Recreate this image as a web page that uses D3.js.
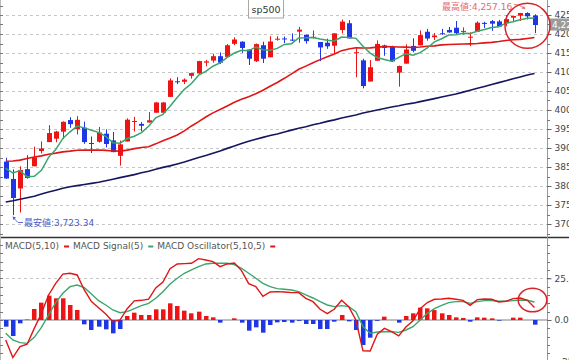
<!DOCTYPE html>
<html><head><meta charset="utf-8">
<script src="https://cdn.jsdelivr.net/npm/d3@7"></script>
<style>
body{margin:0;background:#fff}
svg{display:block}
text{font-family:"DejaVu Sans",Verdana,"Noto Sans CJK JP",sans-serif}
</style>
</head><body>
<svg id="c" width="569" height="360"></svg>
<script>
const dates = ["03/03","03/04","03/05","03/08","03/09","03/10","03/11","03/12","03/15","03/16","03/17","03/18","03/19","03/22","03/23","03/24","03/25","03/26","03/29","03/30","03/31","04/01","04/02","04/05","04/06","04/07","04/08","04/09","04/12","04/13","04/14","04/15","04/16","04/19","04/20","04/21","04/22","04/23","04/26","04/27","04/28","04/29","04/30","05/03","05/04","05/05","05/06","05/07","05/10","05/11","05/12","05/13","05/14","05/17","05/18","05/19","05/20","05/21","05/24","05/25","05/26","05/27","05/28","06/01","06/02","06/03","06/04","06/07","06/08","06/09","06/10","06/11","06/14","06/15","06/16"];
const openP = [3863.99,3818.53,3793.58,3844.39,3851.93,3891.99,3915.54,3924.52,3942.96,3973.59,3949.57,3953.50,3913.14,3916.48,3937.60,3919.93,3879.34,3917.12,3969.31,3963.34,3967.25,3992.78,3992.78,4034.44,4075.57,4074.29,4089.95,4096.11,4124.71,4130.10,4141.58,4139.76,4174.14,4179.80,4159.18,4128.42,4170.46,4138.78,4185.03,4188.25,4185.14,4206.14,4198.10,4191.98,4179.04,4177.06,4169.14,4210.34,4228.29,4150.34,4130.55,4074.99,4129.58,4169.92,4165.94,4098.45,4121.97,4168.61,4170.16,4205.94,4191.59,4201.94,4210.77,4216.52,4206.82,4191.43,4206.05,4229.34,4233.81,4232.99,4228.56,4242.90,4248.31,4255.28,4248.87];
const highP = [3874.47,3843.67,3851.69,3881.06,3903.76,3917.35,3960.27,3944.99,3970.08,3981.04,3983.87,3969.62,3930.12,3955.31,3949.13,3942.08,3919.54,3978.19,3981.83,3968.01,3994.41,4020.63,4020.63,4083.42,4086.23,4083.13,4098.19,4129.48,4131.76,4148.00,4151.69,4173.49,4191.31,4180.81,4159.18,4175.02,4179.57,4194.17,4194.19,4193.35,4201.53,4218.78,4198.10,4209.39,4179.04,4187.72,4202.70,4238.04,4236.39,4162.04,4134.73,4131.58,4183.13,4171.92,4169.15,4116.93,4172.80,4188.72,4209.52,4213.42,4202.61,4213.38,4218.36,4234.12,4217.37,4204.39,4233.45,4232.34,4236.74,4237.09,4249.74,4248.38,4255.59,4257.16,4251.89];
const lowP = [3818.86,3723.34,3730.19,3819.25,3851.93,3885.73,3915.54,3915.21,3923.54,3953.44,3935.74,3910.86,3886.75,3914.16,3901.57,3888.75,3853.50,3917.12,3943.25,3944.35,3966.98,3992.78,3992.78,4034.44,4068.14,4068.31,4082.54,4095.51,4114.82,4124.43,4120.87,4139.76,4170.75,4150.47,4118.38,4126.35,4123.69,4138.78,4182.36,4176.22,4181.78,4176.81,4174.85,4188.03,4128.59,4160.94,4147.33,4201.64,4188.13,4086.00,4056.88,4074.99,4129.58,4142.69,4125.99,4061.41,4121.97,4151.72,4170.16,4182.52,4184.11,4197.78,4203.57,4197.59,4198.27,4167.93,4206.05,4215.66,4208.41,4218.74,4220.34,4232.25,4234.07,4238.35,4202.45];
const closeP = [3819.72,3768.47,3841.94,3821.35,3875.44,3898.81,3939.34,3943.34,3968.94,3962.71,3974.12,3915.46,3913.10,3940.59,3910.52,3889.14,3909.52,3974.54,3971.09,3958.55,3972.89,4019.87,4019.87,4077.91,4073.94,4079.95,4097.17,4128.80,4127.99,4141.59,4124.66,4170.42,4185.47,4163.26,4134.94,4173.42,4134.98,4180.17,4187.62,4186.72,4183.18,4211.47,4181.17,4192.66,4164.66,4167.59,4201.62,4232.60,4188.43,4152.10,4063.04,4112.50,4173.85,4163.29,4127.83,4115.68,4159.12,4155.86,4197.05,4188.13,4195.99,4200.88,4204.11,4202.04,4208.12,4192.85,4229.89,4226.52,4227.26,4219.55,4239.18,4247.44,4255.15,4246.59,4223.70];
const ma5 = [3846.5,3834.3,3840.4,3824.4,3825.4,3841.2,3875.4,3895.7,3925.2,3942.6,3957.7,3952.9,3946.9,3941.2,3930.8,3913.8,3912.6,3924.9,3931.0,3940.6,3957.3,3979.4,3988.5,4009.8,4032.9,4054.3,4069.8,4091.6,4101.6,4115.1,4124.0,4138.7,4150.0,4157.1,4155.8,4165.5,4158.4,4157.4,4162.2,4172.6,4174.5,4189.8,4190.0,4191.0,4186.6,4183.5,4181.5,4191.8,4191.0,4188.5,4167.6,4149.7,4138.0,4133.0,4128.1,4138.6,4148.0,4144.4,4151.1,4163.2,4179.2,4187.6,4197.2,4198.2,4202.2,4201.6,4207.4,4211.9,4216.9,4219.2,4228.5,4232.0,4237.7,4241.6,4242.4];
const ma25 = [3865.2,3865.9,3868.1,3872.4,3876.4,3879.3,3883.7,3886.5,3889.8,3891.7,3894.2,3894.5,3894.3,3894.6,3893.7,3892.0,3891.8,3894.5,3898.3,3901.4,3903.3,3910.9,3919.3,3926.3,3934.4,3944.9,3958.0,3969.5,3981.7,3992.4,4001.4,4010.7,4020.4,4028.1,4035.0,4043.0,4051.8,4062.5,4072.3,4083.4,4095.1,4107.2,4115.5,4124.3,4132.6,4140.4,4147.6,4156.2,4160.6,4163.7,4163.0,4163.6,4165.4,4166.9,4166.3,4165.9,4165.5,4164.3,4165.7,4167.8,4168.7,4171.3,4172.3,4172.9,4173.7,4174.1,4174.8,4176.7,4178.0,4180.2,4183.1,4184.9,4185.8,4188.2,4191.0];
const ma75 = [3758,3761,3765,3769,3773,3779,3784,3789,3794,3798,3801,3804,3807,3810,3814,3818,3822,3826,3830,3835,3839,3844,3849,3853,3858,3863,3869,3875,3880,3886,3892,3899,3905,3912,3918,3923,3928,3933,3937,3942,3947,3952,3956,3961,3965,3970,3974,3979,3983,3987,3992,3996,4000,4004,4008,4011,4015,4018,4022,4026,4030,4034,4038,4042,4047,4052,4057,4062,4067,4072,4077,4082,4087,4092,4096];
const macdLine = [-12,-22.5,-16,-14.5,-5,4,15,22,27.5,28,27,18,11,7.4,3.6,-1,0,6.8,11.5,11.8,12.5,19.2,22.8,30.8,33.6,33.8,34,36.8,36,35,32,33.6,34.2,29.6,21.8,20,14.2,16.8,17,16.8,16.4,16.4,13,11,6.4,3.8,6.6,11.8,8,0,-18.5,-18.6,-8.5,-5,-7,-9.5,-4.2,-0.5,6.8,10.5,12.4,12.6,13,12.4,11.8,8.8,12.2,12.6,12.4,10.8,11.2,12.8,13.2,11.8,7.5];
const signalLine = [-8,-12,-13.6,-14,-10.4,-4.4,3,10.4,16,20,21,19.4,15.6,11.6,9,6,4.4,5,6.8,8.6,10,13,17,21.6,25,28,30,32,33.6,34,34,34,33.2,31,28,25,22,20,18.8,18.4,18,17,15,13.2,11,9,8,8.6,8,5,-4,-8,-7.2,-7,-7,-7.4,-6,-4,0,4,6.8,8.8,10.4,11,11,10,11,11.6,11.6,11.2,11.2,11.6,12,11.8,10.8];
const oscBars = [-4,-9.6,-2,0.3,6.6,10.4,14.6,13,13,9,6,-2.6,-6,-4,-5.6,-8,-5.4,2.4,4.4,3,3,6.4,6.4,10,8.4,5.6,4,5,2.4,1.6,-1.6,0,1,-1.6,-6.4,-4.4,-7.6,-3,-1.4,-1.2,-1.6,-0.5,-2.4,-2.4,-5.4,-5.4,-1,3,-0.8,-6,-15,-10.6,-0.5,2,0,-1.6,2.4,4,7.4,7,6,4,3,1.6,1.2,-1,1.6,1.4,1,-0.4,0,1.4,1.4,0,-2.8];
const priceTicks = [3700,3750,3800,3850,3900,3950,4000,4050,4100,4150,4200,4250];
const macdTicks = [-25,0,25];
const legendItems = ["MACD(5,10)","MACD Signal(5)","MACD Oscillator(5,10,5)"];
const title = "sp500";
const maxLabel = "最高値:4,257.16";
const minLabel = "最安値:3,723.34";
const lastLabel = "4,223.70";

const RED="#ee1414", BLUE="#1f36e6", GREEN="#3aa56c", MARED="#e01515", NAVY="#16165e";
const AX=547, SPLIT=237.5;
const svg=d3.select('#c');
svg.append('rect').attr('width',569).attr('height',360).attr('fill','#fff');

const x=d3.scalePoint().domain(dates).range([5.7,534.5]);
const y=d3.scaleLinear().domain([3700,4250]).range([224,15]);
const ym=d3.scaleLinear().domain([-25,25]).range([361.7,278.3]);

svg.append('clipPath').attr('id','ct').append('rect').attr('x',0).attr('y',0).attr('width',AX).attr('height',SPLIT);
svg.append('clipPath').attr('id','cb').append('rect').attr('x',0).attr('y',SPLIT+1).attr('width',AX).attr('height',360-SPLIT);

svg.append('g').selectAll('line').data(priceTicks).join('line')
  .attr('x1',0).attr('x2',AX).attr('y1',d=>Math.round(y(d))+0.5).attr('y2',d=>Math.round(y(d))+0.5)
  .attr('stroke','#c6c6c6').attr('stroke-dasharray','3,3');
svg.append('line').attr('x1',0).attr('x2',AX).attr('y1',Math.round(ym(25))+0.5).attr('y2',Math.round(ym(25))+0.5)
  .attr('stroke','#c6c6c6').attr('stroke-dasharray','3,3');
svg.append('line').attr('x1',0).attr('x2',AX).attr('y1',ym(0)).attr('y2',ym(0))
  .attr('stroke','#aaaaaa').attr('stroke-width',1.5);

const topG=svg.append('g').attr('clip-path','url(#ct)');
const idx=d3.range(dates.length);
const col=i=>closeP[i]>=openP[i]?RED:BLUE;
topG.append('g').selectAll('line').data(idx).join('line')
  .attr('x1',i=>Math.round(x(dates[i]))+0.5).attr('x2',i=>Math.round(x(dates[i]))+0.5)
  .attr('y1',i=>y(highP[i])).attr('y2',i=>y(lowP[i]))
  .attr('stroke',col).attr('stroke-width',1);
topG.append('g').selectAll('rect').data(idx).join('rect')
  .attr('x',i=>Math.round(x(dates[i]))-2).attr('width',5)
  .attr('y',i=>Math.min(y(openP[i]),y(closeP[i])))
  .attr('height',i=>Math.max(1,Math.abs(y(openP[i])-y(closeP[i]))))
  .attr('fill',col);

const lineP=d3.line().x((d,i)=>x(dates[i])).y(d=>y(d));
topG.append('path').attr('d',lineP(ma75)).attr('fill','none').attr('stroke',NAVY).attr('stroke-width',1.6);
topG.append('path').attr('d',lineP(ma25)).attr('fill','none').attr('stroke',MARED).attr('stroke-width',1.6);
topG.append('path').attr('d',lineP(ma5)).attr('fill','none').attr('stroke',GREEN).attr('stroke-width',1.5);

const botG=svg.append('g').attr('clip-path','url(#cb)');
botG.append('g').selectAll('rect').data(idx).join('rect')
  .attr('x',i=>Math.round(x(dates[i]))-2).attr('width',4.5)
  .attr('y',i=>Math.min(ym(0),ym(oscBars[i])))
  .attr('height',i=>Math.abs(ym(0)-ym(oscBars[i])))
  .attr('fill',i=>oscBars[i]>=0?RED:BLUE);
const lineM=d3.line().x((d,i)=>x(dates[i])).y(d=>ym(d));
botG.append('path').attr('d',lineM(signalLine)).attr('fill','none').attr('stroke',GREEN).attr('stroke-width',1.4);
botG.append('path').attr('d',lineM(macdLine)).attr('fill','none').attr('stroke',MARED).attr('stroke-width',1.4);

svg.append('line').attr('x1',0).attr('x2',569).attr('y1',SPLIT).attr('y2',SPLIT).attr('stroke','#333').attr('stroke-width',1.5);

svg.append('line').attr('x1',AX+0.5).attr('x2',AX+0.5).attr('y1',0).attr('y2',360).attr('stroke','#999');
svg.append('line').attr('x1',0.5).attr('x2',0.5).attr('y1',0).attr('y2',360).attr('stroke','#bbb');

const minorTop=d3.range(3675,4276,25);
const minorBot=d3.range(-25,46,5);
svg.append('g').selectAll('line').data(minorTop).join('line')
  .attr('x1',AX).attr('x2',AX+3).attr('y1',d=>Math.round(y(d))+0.5).attr('y2',d=>Math.round(y(d))+0.5).attr('stroke','#777');
svg.append('g').selectAll('line').data(minorTop).join('line')
  .attr('x1',0).attr('x2',3).attr('y1',d=>Math.round(y(d))+0.5).attr('y2',d=>Math.round(y(d))+0.5).attr('stroke','#777');
svg.append('g').selectAll('line').data(minorBot.filter(d=>ym(d)>SPLIT+3)).join('line')
  .attr('x1',AX).attr('x2',AX+3).attr('y1',d=>Math.round(ym(d))+0.5).attr('y2',d=>Math.round(ym(d))+0.5).attr('stroke','#777');
svg.append('g').selectAll('line').data(minorBot.filter(d=>ym(d)>SPLIT+3)).join('line')
  .attr('x1',0).attr('x2',3).attr('y1',d=>Math.round(ym(d))+0.5).attr('y2',d=>Math.round(ym(d))+0.5).attr('stroke','#777');

const ayTop=svg.append('g').attr('transform',`translate(${AX+0.5},0)`)
  .call(d3.axisRight(y).tickValues(priceTicks).tickSize(4).tickPadding(3).tickFormat(d3.format('d')));
const ayBot=svg.append('g').attr('transform',`translate(${AX+0.5},0)`)
  .call(d3.axisRight(ym).tickValues(macdTicks).tickSize(4).tickPadding(3).tickFormat(d3.format('.2f')));
[ayTop,ayBot].forEach(g=>{
  g.select('.domain').remove();
  g.selectAll('line').attr('stroke','#666');
  g.selectAll('text').attr('fill','#444').style('font-size','9px').style('font-family','"DejaVu Sans",Verdana,sans-serif');
});

svg.append('rect').attr('x',549).attr('y',18.5).attr('width',22).attr('height',12).attr('fill','#9b9b9b');
svg.append('text').attr('x',552).attr('y',27.6).attr('fill','#fff').style('font-size','9px').text(lastLabel);

svg.append('rect').attr('x',248.5).attr('y',-0.5).attr('width',35).attr('height',18.5).attr('fill','#fff').attr('stroke','#a8a8a8');
svg.append('text').attr('x',266).attr('y',12.5).attr('text-anchor','middle').attr('fill','#333').style('font-size','9.5px').text(title);

svg.append('text').attr('x',442).attr('y',10).attr('fill','#e26a6a').style('font-size','9px').text(maxLabel);
svg.append('path').attr('d','M514,4.5 Q519,4 524,8').attr('fill','none').attr('stroke','#e26a6a').attr('stroke-width',0.9);
svg.append('path').attr('d','M525.5,9 L521.5,8.6 L524,6 Z').attr('fill','#e26a6a');
svg.append('text').attr('x',24).attr('y',226).attr('fill','#4a5cc8').style('font-size','9px').text(minLabel);
svg.append('path').attr('d','M23,222.5 L18,222.5 L13.5,218').attr('fill','none').attr('stroke','#4a5cc8').attr('stroke-width',0.9);
svg.append('path').attr('d','M12.5,216.5 L16,217.5 L13.5,220 Z').attr('fill','#4a5cc8');

svg.append('ellipse').attr('cx',527.5).attr('cy',25.8).attr('rx',22.5).attr('ry',22.5).attr('fill','none').attr('stroke','#d8242a').attr('stroke-width',1.5);
svg.append('ellipse').attr('cx',532.5).attr('cy',300).attr('rx',14.3).attr('ry',11.8).attr('fill','none').attr('stroke','#d8242a').attr('stroke-width',1.5);

const legColors=[MARED,GREEN,MARED];
let lx=5;
legendItems.forEach((t,k)=>{
  const tx=svg.append('text').attr('x',lx).attr('y',249).attr('fill','#555').style('font-size','9px').text(t);
  const w=tx.node().getComputedTextLength();
  lx+=w+5;
  svg.append('line').attr('x1',lx).attr('x2',lx+5).attr('y1',246.5).attr('y2',246.5).attr('stroke',legColors[k]).attr('stroke-width',2);
  lx+=9;
});
</script>
</body></html>
